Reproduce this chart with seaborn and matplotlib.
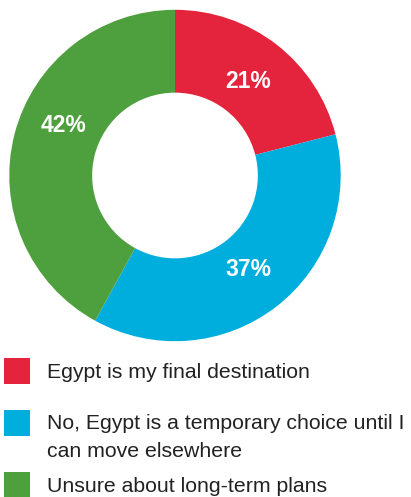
import matplotlib
matplotlib.use("Agg")
import matplotlib.pyplot as plt
from matplotlib.patches import Rectangle
import seaborn as sns

# Survey answers and their shares (percent)
categories = [
    "Egypt is my final destination",
    "No, Egypt is a temporary choice until I\ncan move elsewhere",
    "Unsure about long-term plans",
]
shares = [21, 37, 42]
colors = ["#E4243C", "#00AEDD", "#4E9F3D"]

sns.set_theme(style="white")
plt.rcParams["font.family"] = ["Liberation Sans", "DejaVu Sans"]
palette = sns.color_palette(colors)

W, H = 411, 497
fig = plt.figure(figsize=(W / 100, H / 100), dpi=100)

# Donut chart
cx, cy, r = 175, 175.5, 165.7
ax = fig.add_axes([(cx - r) / W, (H - cy - r) / H, 2 * r / W, 2 * r / H])
wedges, texts, autotexts = ax.pie(
    shares,
    colors=palette,
    startangle=90,
    counterclock=False,
    radius=1,
    wedgeprops=dict(width=0.5, linewidth=0),
    autopct=lambda p: f"{p:.0f}%",
    pctdistance=0.72,
    textprops=dict(color="white", fontsize=16.5, fontweight="bold"),
)
# lift the large segment's label a little towards the top
autotexts[2].set_position((-0.675, 0.30))
ax.set_xlim(-1, 1)
ax.set_ylim(-1, 1)
ax.set_aspect("equal")
ax.axis("off")

# Legend: colour squares with labels underneath the donut
sq = 26
legend_rows = [(358, 373), (410, 437.5), (472, 486)]
for (top, text_y), label, col in zip(legend_rows, categories, palette):
    fig.patches.append(
        Rectangle((4 / W, (H - top - sq) / H), sq / W, sq / H,
                  transform=fig.transFigure, color=col, linewidth=0)
    )
    fig.text(47 / W, (H - text_y) / H, label, ha="left", va="center",
             fontsize=15.3, color="#222222", linespacing=1.6)

fig.savefig("out.png", dpi=100)
